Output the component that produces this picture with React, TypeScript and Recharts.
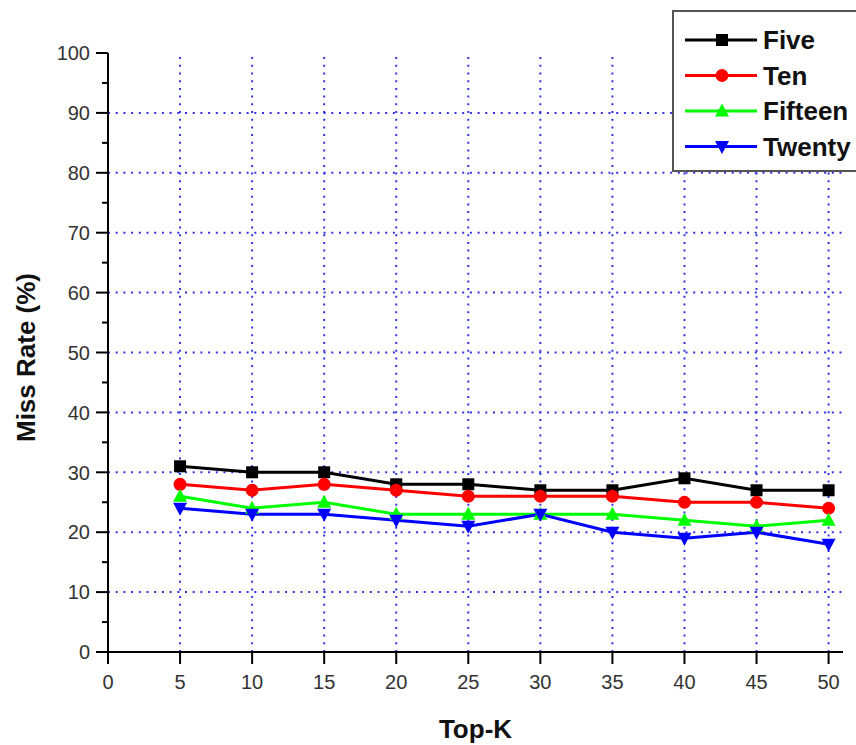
import React from "react";
import {
  LineChart,
  Line,
  XAxis,
  YAxis,
  ReferenceLine,
} from "recharts";

const TOP_K = [5, 10, 15, 20, 25, 30, 35, 40, 45, 50];
const FIVE = [31, 30, 30, 28, 28, 27, 27, 29, 27, 27];
const TEN = [28, 27, 28, 27, 26, 26, 26, 25, 25, 24];
const FIFTEEN = [26, 24, 25, 23, 23, 23, 23, 22, 21, 22];
const TWENTY = [24, 23, 23, 22, 21, 23, 20, 19, 20, 18];

const X_TICKS = [0, 5, 10, 15, 20, 25, 30, 35, 40, 45, 50];
const Y_TICKS = [0, 5, 10, 15, 20, 25, 30, 35, 40, 45, 50, 55, 60, 65, 70, 75, 80, 85, 90, 95, 100];
const H_GRID = [10, 20, 30, 40, 50, 60, 70, 80, 90];

const FONT = "'Liberation Sans', Arial, sans-serif";
const GRID = "#3333e6";

const data = TOP_K.map((k, i) => ({
  k,
  five: FIVE[i],
  ten: TEN[i],
  fifteen: FIFTEEN[i],
  twenty: TWENTY[i],
}));

type Shape = "square" | "circle" | "up" | "down";

const SERIES: { key: string; name: string; color: string; shape: Shape }[] = [
  { key: "five", name: "Five", color: "#000000", shape: "square" },
  { key: "ten", name: "Ten", color: "#ff0000", shape: "circle" },
  { key: "fifteen", name: "Fifteen", color: "#00ff00", shape: "up" },
  { key: "twenty", name: "Twenty", color: "#0000ff", shape: "down" },
];

function marker(shape: Shape, cx: number, cy: number, color: string, key?: string) {
  if (shape === "square")
    return <rect key={key} x={cx - 6} y={cy - 6} width={12} height={12} fill={color} />;
  if (shape === "circle") return <circle key={key} cx={cx} cy={cy} r={6.5} fill={color} />;
  if (shape === "up")
    return (
      <polygon
        key={key}
        points={`${cx - 7},${cy + 5.5} ${cx + 7},${cy + 5.5} ${cx},${cy - 7.5}`}
        fill={color}
      />
    );
  return (
    <polygon
      key={key}
      points={`${cx - 7},${cy - 5.5} ${cx + 7},${cy - 5.5} ${cx},${cy + 7.5}`}
      fill={color}
    />
  );
}

const YTick = (props: any) => {
  const { x, y, payload } = props;
  const major = payload.value % 10 === 0;
  return (
    <g>
      <line x1={x - (major ? 12 : 6)} x2={x} y1={y} y2={y} stroke="#000" strokeWidth={2} />
      {major && (
        <text x={x - 18} y={y} dy="0.36em" textAnchor="end" fontSize={20} fill="#333" fontFamily={FONT}>
          {payload.value}
        </text>
      )}
    </g>
  );
};

function LegendBox() {
  return (
    <div
      style={{
        position: "absolute",
        left: 672,
        top: 10,
        width: 200,
        height: 162,
        border: "2px solid #555",
        background: "#fff",
        boxSizing: "border-box",
      }}
    >
      <svg width={200} height={162} style={{ position: "absolute", left: -2, top: -2 }}>
        {SERIES.map((s, i) => {
          const cy = 30 + i * 35.5;
          return (
            <g key={s.key}>
              <line x1={13} x2={85} y1={cy} y2={cy} stroke={s.color} strokeWidth={3} />
              {marker(s.shape, 50, cy, s.color)}
              <text
                x={91}
                y={cy}
                dy="0.36em"
                fontSize={26}
                fontWeight="bold"
                fontFamily={FONT}
                fill="#111"
              >
                {s.name}
              </text>
            </g>
          );
        })}
      </svg>
    </div>
  );
}

export default function App() {
  return (
    <div
      style={{
        position: "absolute",
        left: 0,
        top: 0,
        width: 856,
        height: 745,
        overflow: "hidden",
        background: "#fff",
        fontFamily: FONT,
      }}
    >
      <LineChart width={856} height={745} data={data} margin={{ top: 53, right: 13, bottom: 0, left: 0 }}>
        <XAxis
          dataKey="k"
          type="number"
          domain={[0, 51]}
          ticks={X_TICKS}
          interval={0}
          allowDataOverflow
          height={93}
          axisLine={{ stroke: "#000", strokeWidth: 2 }}
          tickLine={{ stroke: "#000", strokeWidth: 2 }}
          tickSize={12}
          tickMargin={11}
          tick={{ fontSize: 20, fill: "#333", fontFamily: FONT }}
          label={{
            content: (p: any) => {
              const vb = p.viewBox;
              return (
                <text
                  x={vb.x + vb.width / 2}
                  y={vb.y + 86}
                  textAnchor="middle"
                  fontSize={26}
                  fontWeight="bold"
                  fontFamily={FONT}
                  fill="#111"
                >
                  Top-K
                </text>
              );
            },
          }}
        />
        <YAxis
          type="number"
          domain={[0, 100]}
          ticks={Y_TICKS}
          interval={0}
          width={108}
          axisLine={{ stroke: "#000", strokeWidth: 2 }}
          tickLine={false}
          tickSize={0}
          tickMargin={0}
          tick={<YTick />}
          label={{
            content: (p: any) => {
              const vb = p.viewBox;
              const cx = 35;
              const cy = vb.y + vb.height / 2 + 5;
              return (
                <text
                  x={cx}
                  y={cy}
                  transform={`rotate(-90, ${cx}, ${cy})`}
                  textAnchor="middle"
                  fontSize={26}
                  fontWeight="bold"
                  fontFamily={FONT}
                  fill="#111"
                >
                  Miss Rate (%)
                </text>
              );
            },
          }}
        />
        {H_GRID.map((v) => (
          <ReferenceLine key={`h${v}`} y={v} stroke={GRID} strokeWidth={2} strokeDasharray="2 5.7" />
        ))}
        {TOP_K.map((v) => (
          <ReferenceLine key={`v${v}`} x={v} stroke={GRID} strokeWidth={2} strokeDasharray="2 5.7" />
        ))}
        {SERIES.map((s) => (
          <Line
            key={s.key}
            dataKey={s.key}
            name={s.name}
            stroke={s.color}
            strokeWidth={3}
            isAnimationActive={false}
            dot={(p: any) => marker(s.shape, p.cx, p.cy, s.color, `${s.key}-${p.index}`)}
            activeDot={false}
          />
        ))}
      </LineChart>
      <LegendBox />
    </div>
  );
}
